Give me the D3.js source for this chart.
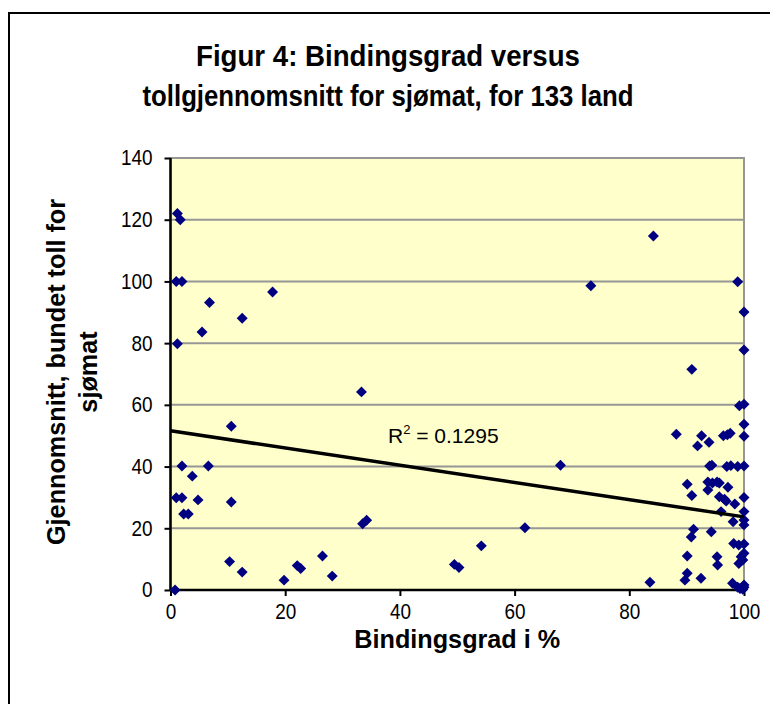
<!DOCTYPE html>
<html>
<head>
<meta charset="utf-8">
<script src="https://cdn.jsdelivr.net/npm/d3@7"></script>
<style>
  body { margin: 0; background: #fff; }
  svg { display: block; font-family: "Liberation Sans", Arial, sans-serif; }
</style>
</head>
<body>
<svg width="770" height="704"></svg>
<script>
// Bindingsgrad (%) for each country
const bindingsgrad = [
  1.2, 1.7, 1.0, 2.0, 6.8, 17.8, 12.5, 5.5, 1.2, 10.6,
  2.0, 6.6, 3.8, 1.0, 2.0, 4.8, 10.6, 2.3, 3.1, 10.3,
  12.5, 19.8, 22.1, 22.7, 26.5, 28.2, 0.8, 33.3, 33.5, 34.2,
  49.5, 50.3, 54.2, 61.8, 68.0, 84.2, 73.3, 98.9, 100, 100,
  90.9, 99.2, 100, 100, 88.2, 92.6, 91.9, 93.9, 96.4, 97.1,
  97.6, 100, 94.0, 94.4, 97.0, 97.7, 98.9, 100, 90.1, 93.7,
  94.5, 95.3, 95.7, 97.2, 93.7, 90.9, 95.7, 96.6, 96.9, 98.4,
  100, 96.0, 100, 98.1, 100, 100, 91.2, 90.8, 94.3, 98.2,
  99.1, 100, 100, 99.5, 99.1, 99.8, 90.1, 95.3, 95.4, 90.1,
  89.7, 92.5, 98.0, 98.9, 99.8, 100, 100, 99.3, 83.6
];
// Bundet toll for sjømat, same order
const toll = [
  122, 120, 100, 100, 93.2, 96.6, 88.1, 83.6, 79.8, 53.1,
  40.2, 40.2, 36.9, 29.9, 29.9, 29.2, 28.5, 24.6, 24.6, 9.2,
  5.8, 3.2, 7.9, 7.0, 11.0, 4.5, 0, 64.2, 21.5, 22.6,
  8.3, 7.3, 14.3, 20.2, 40.4, 114.7, 98.6, 99.9, 90.1, 77.8,
  71.5, 59.7, 60.2, 53.7, 50.5, 50.0, 46.7, 47.9, 50.0, 50.3,
  50.8, 49.8, 40.2, 40.4, 40.0, 40.3, 40.0, 40.2, 34.3, 35.0,
  34.7, 35.0, 34.7, 33.3, 32.4, 30.6, 30.2, 29.4, 28.8, 27.9,
  30.0, 25.4, 25.4, 22.1, 22.7, 21.1, 19.7, 17.2, 18.9, 15.1,
  14.6, 14.9, 11.9, 10.8, 8.6, 9.7, 11.0, 10.8, 8.1, 5.4,
  3.2, 3.8, 2.2, 0.9, 0.2, 0.9, 1.6, 0.5, 2.5
];
const xTicks = [0, 20, 40, 60, 80, 100];
const yTicks = [0, 20, 40, 60, 80, 100, 120, 140];
// linear trend line as drawn in the picture
const trendX = [0, 100];
const trendY = [51.6, 23.7];
const rSquared = "0.1295";

const titleLines = ["Figur 4: Bindingsgrad versus", "tollgjennomsnitt for sjømat, for 133 land"];
const xTitle = "Bindingsgrad i %";
const yTitleLines = ["Gjennomsnitt, bundet toll for", "sjømat"];

const svg = d3.select("svg");

// squeeze text a little, the original font renders narrow
function condense(sel, k) {
  sel.each(function () {
    const w = this.getComputedTextLength();
    d3.select(this).attr("textLength", w * k).attr("lengthAdjust", "spacingAndGlyphs");
  });
}

// outer chart frame (right and bottom edges fall outside the picture)
svg.append("rect")
  .attr("x", 9).attr("y", 13)
  .attr("width", 820).attr("height", 760)
  .attr("fill", "#fff").attr("stroke", "#000").attr("stroke-width", 2);

const x = d3.scaleLinear().domain([0, 100]).range([170.5, 744]);
const y = d3.scaleLinear().domain([0, 140]).range([590, 158]);

// plot area
svg.append("rect")
  .attr("x", x(0)).attr("y", y(140))
  .attr("width", x(100) - x(0)).attr("height", y(0) - y(140))
  .attr("fill", "#ffffcc").attr("stroke", "#969696").attr("stroke-width", 2);

// gridlines
svg.append("g")
  .selectAll("line")
  .data(yTicks.filter(d => d > 0))
  .join("line")
  .attr("x1", x(0)).attr("x2", x(100))
  .attr("y1", d => y(d)).attr("y2", d => y(d))
  .attr("stroke", "#969696").attr("stroke-width", 2);

// axes
const xAxis = svg.append("g")
  .attr("transform", `translate(0,${y(0)})`)
  .call(d3.axisBottom(x).tickValues(xTicks).tickSize(6).tickPadding(8));
const yAxis = svg.append("g")
  .attr("transform", `translate(${x(0)},0)`)
  .call(d3.axisLeft(y).tickValues(yTicks).tickSize(6).tickPadding(12));

[xAxis, yAxis].forEach(g => {
  g.select(".domain").attr("stroke", "#000").attr("stroke-width", 2.5);
  g.selectAll(".tick line").attr("stroke", "#000").attr("stroke-width", 2);
  g.selectAll(".tick text")
    .attr("font-family", "Liberation Sans, Arial, sans-serif")
    .attr("font-size", 21.5).attr("fill", "#000")
    .call(condense, 0.88);
});
xAxis.select(".domain").attr("d", `M${x(0)},0H${x(100)}`);
yAxis.select(".domain").attr("d", `M0,${y(0)}V${y(140)}`);

// points
const diamond = d3.symbol(d3.symbolSquare, 60);
svg.append("g")
  .selectAll("path")
  .data(d3.zip(bindingsgrad, toll))
  .join("path")
  .attr("d", diamond)
  .attr("transform", d => `translate(${x(d[0])},${y(d[1])}) rotate(45)`)
  .attr("fill", "#000080");

// trend line
svg.append("path")
  .datum(d3.zip(trendX, trendY))
  .attr("d", d3.line().x(d => x(d[0])).y(d => y(d[1])))
  .attr("fill", "none").attr("stroke", "#000").attr("stroke-width", 3.5);

// R² label
const rLabel = svg.append("text")
  .attr("x", 388).attr("y", 443)
  .attr("font-size", 21).attr("fill", "#000");
rLabel.append("tspan").text("R");
rLabel.append("tspan").attr("font-size", 13).attr("dy", -9).text("2");
rLabel.append("tspan").attr("dy", 9).text(" = " + rSquared);

// title, widths as measured on the reference
const titleWidths = [384, 491];
svg.append("g")
  .selectAll("text")
  .data(titleLines)
  .join("text")
  .attr("x", 388)
  .attr("y", (d, i) => 66 + i * 40)
  .attr("text-anchor", "middle")
  .attr("font-size", 29).attr("font-weight", "bold")
  .attr("textLength", (d, i) => titleWidths[i])
  .attr("lengthAdjust", "spacingAndGlyphs")
  .text(d => d);

// x axis title
svg.append("text")
  .attr("x", (x(0) + x(100)) / 2).attr("y", 648)
  .attr("text-anchor", "middle")
  .attr("font-size", 26).attr("font-weight", "bold")
  .text(xTitle)
  .call(condense, 0.97);

// y axis title
svg.append("g")
  .selectAll("text")
  .data(yTitleLines)
  .join("text")
  .attr("transform", (d, i) => `translate(${65 + i * 32},372) rotate(-90)`)
  .attr("text-anchor", "middle")
  .attr("font-size", 26).attr("font-weight", "bold")
  .text(d => d)
  .call(condense, 0.97);
</script>
</body>
</html>
